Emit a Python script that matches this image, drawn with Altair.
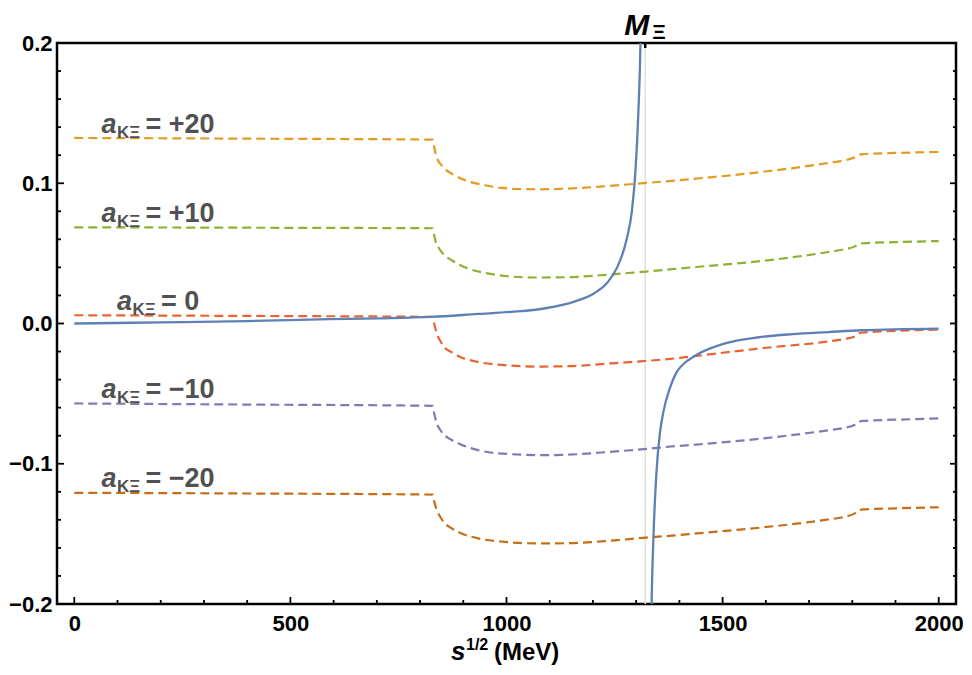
import altair as alt
import pandas as pd

# ---------------- data ----------------
M_XI = [1321]

BLUE_X1 = [0, 200, 400, 590, 705, 827, 934, 1011, 1087, 1164, 1202, 1233, 1256, 1278, 1290, 1298, 1305, 1310, 1313]
BLUE_Y1 = [0.0, 0.0008, 0.0017, 0.0031, 0.0037, 0.0047, 0.0068, 0.0083, 0.0107, 0.0163, 0.0214, 0.0290,
           0.040, 0.060, 0.080, 0.107, 0.150, 0.200, 0.260]
BLUE_X2 = [1333, 1336, 1340, 1347, 1355, 1363, 1378, 1393, 1409, 1439, 1508, 1584, 1661, 1745, 1822, 2000]
BLUE_Y2 = [-0.26, -0.195, -0.152, -0.106, -0.078, -0.063, -0.046, -0.035, -0.029, -0.0225, -0.0140,
           -0.0098, -0.0076, -0.0061, -0.0048, -0.0036]

P20_X = [0, 400, 829, 833, 836, 842, 850, 860, 873, 911, 950, 988, 1026, 1080, 1141, 1217, 1294, 1389, 1439,
         1592, 1745, 1780, 1806, 1815, 1825, 1900, 2000]
P20_Y = [0.1323, 0.1318, 0.1311, 0.1255, 0.1212, 0.1160, 0.1128, 0.1095, 0.1069, 0.1014, 0.0986, 0.0967,
         0.0959, 0.0957, 0.0962, 0.0976, 0.0995, 0.1019, 0.1033, 0.1081, 0.1145, 0.1163, 0.1185, 0.1203,
         0.1208, 0.1216, 0.1223]

P10_X = [0, 400, 829, 833, 836, 842, 850, 860, 873, 911, 950, 1003, 1065, 1141, 1217, 1294, 1389, 1439,
         1592, 1745, 1780, 1806, 1815, 1825, 1900, 2000]
P10_Y = [0.0686, 0.0683, 0.0679, 0.0625, 0.0585, 0.0545, 0.0510, 0.0478, 0.0451, 0.0392, 0.0361, 0.0337,
         0.0328, 0.0330, 0.0344, 0.0363, 0.0389, 0.0403, 0.0446, 0.0510, 0.0528, 0.0550, 0.0567, 0.0572,
         0.0580, 0.0588]

P0_X = [0, 400, 829, 833, 839, 848, 858, 873, 896, 934, 996, 1072, 1148, 1240, 1317, 1389, 1439, 1592,
        1745, 1780, 1806, 1815, 1825, 1900, 2000]
P0_Y = [0.0059, 0.0054, 0.0047, -0.0005, -0.0075, -0.0130, -0.0175, -0.0205, -0.0242, -0.0274, -0.0297,
        -0.0307, -0.0304, -0.0285, -0.0268, -0.0249, -0.0231, -0.0176, -0.0128, -0.0112, -0.0092, -0.0072,
        -0.0064, -0.0053, -0.0043]

M10_X = [0, 400, 829, 833, 838, 850, 870, 889, 934, 1011, 1087, 1164, 1240, 1317, 1389, 1439, 1592, 1745,
         1780, 1806, 1815, 1825, 1900, 2000]
M10_Y = [-0.0570, -0.0578, -0.0587, -0.0645, -0.0705, -0.0773, -0.0825, -0.0855, -0.0903, -0.0932, -0.0939,
         -0.0932, -0.0915, -0.0896, -0.0875, -0.0863, -0.0820, -0.0761, -0.0745, -0.0722, -0.0702, -0.0694,
         -0.0686, -0.0677]

M20_X = [0, 400, 829, 833, 839, 848, 858, 873, 896, 934, 996, 1072, 1148, 1240, 1317, 1389, 1439, 1592,
         1745, 1780, 1806, 1815, 1825, 1900, 2000]
M20_Y = [-0.1207, -0.1212, -0.1220, -0.1272, -0.1331, -0.1385, -0.1426, -0.1460, -0.1497, -0.1532, -0.1557,
         -0.1568, -0.1566, -0.1549, -0.1528, -0.1511, -0.1497, -0.1454, -0.1397, -0.1380, -0.1354, -0.1335,
         -0.1326, -0.1318, -0.1310]

SERIES = ["+20", "+10", "0", "\u221210", "\u221220"]
SERIES_COLORS = ["#E19C24", "#8FB032", "#EB6235", "#8778B3", "#C56E1A"]
BLUE = "#5E81B5"

LABEL_X = [63, 63, 99, 63, 63]
LABEL_Y = [0.1356, 0.0724, 0.0095, -0.0528, -0.1165]

X_MAJOR = [0, 500, 1000, 1500, 2000]
X_MINOR = [100, 200, 300, 400, 600, 700, 800, 900, 1100, 1200, 1300, 1400, 1600, 1700, 1800, 1900]
Y_MAJOR = [-0.2, -0.1, 0.0, 0.1, 0.2]
Y_MINOR = [-0.18, -0.16, -0.14, -0.12, -0.08, -0.06, -0.04, -0.02,
           0.02, 0.04, 0.06, 0.08, 0.12, 0.14, 0.16, 0.18]

# ---------------- tables ----------------
blue_df = pd.concat([
    pd.DataFrame({"x": BLUE_X1, "y": BLUE_Y1, "branch": "below"}),
    pd.DataFrame({"x": BLUE_X2, "y": BLUE_Y2, "branch": "above"}),
])
dash_df = pd.concat([
    pd.DataFrame({"x": xs, "y": ys, "k": name})
    for name, xs, ys in zip(SERIES, [P20_X, P10_X, P0_X, M10_X, M20_X], [P20_Y, P10_Y, P0_Y, M10_Y, M20_Y])
])
lab_df = pd.DataFrame({"x": LABEL_X, "y": LABEL_Y, "v": ["= " + s for s in SERIES]})
m_df = pd.DataFrame({"m": M_XI})

W, H = 899, 561
FONT = "Liberation Sans"
LABEL_GRAY = "#515151"

XS = alt.Scale(domain=[-40, 2040], nice=False, zero=False)
YS = alt.Scale(domain=[-0.2, 0.2], nice=False, zero=False)
XAXIS = alt.Axis(values=X_MAJOR, format="d", title=None, ticks=False, tickSize=0, domain=False, grid=False,
                 labelFont=FONT, labelFontWeight="bold", labelFontSize=22, labelColor="black",
                 labelPadding=9, labelBaseline="top")
YAXIS = alt.Axis(values=Y_MAJOR, format=".1f", title=None, ticks=False, tickSize=0, domain=False, grid=False,
                 labelFont=FONT, labelFontWeight="bold", labelFontSize=22, labelColor="black",
                 labelPadding=5)


def X(f):
    return alt.X(f, type="quantitative", scale=XS, axis=XAXIS)


def Y(f):
    return alt.Y(f, type="quantitative", scale=YS, axis=YAXIS)


mline = alt.Chart(m_df).mark_rule(color="#e2e2e2", strokeWidth=1.6).encode(x=X("m"))

dashed = alt.Chart(dash_df).mark_line(strokeWidth=2.2, strokeDash=[9, 5], clip=True, interpolate="monotone").encode(
    x=X("x"), y=Y("y"),
    color=alt.Color("k:N", scale=alt.Scale(domain=SERIES, range=SERIES_COLORS), legend=None),
    detail="k:N",
)

blue = alt.Chart(blue_df).mark_line(color=BLUE, strokeWidth=2.3, clip=True, interpolate="monotone").encode(
    x=X("x"), y=Y("y"), detail="branch:N"
)

# annotations a_KΞ = ...
lab_a = alt.Chart(lab_df).mark_text(align="left", baseline="alphabetic", font=FONT, fontWeight="bold",
                                    fontStyle="italic", fontSize=27, color=LABEL_GRAY).encode(
    x=X("x"), y=Y("y"), text=alt.value("a"))
lab_sub = alt.Chart(lab_df).mark_text(align="left", baseline="alphabetic", font=FONT, fontWeight="bold",
                                      fontSize=17, color=LABEL_GRAY, dx=15.5, dy=5).encode(
    x=X("x"), y=Y("y"), text=alt.value("K\u039e"))
lab_v = alt.Chart(lab_df).mark_text(align="left", baseline="alphabetic", font=FONT, fontWeight="bold",
                                    fontSize=27, color=LABEL_GRAY, dx=44).encode(
    x=X("x"), y=Y("y"), text="v:N")

# M_Ξ on top
m_text = alt.Chart(m_df).mark_text(align="left", baseline="alphabetic", font=FONT, fontWeight="bold",
                                   fontStyle="italic", fontSize=30, color="black", dx=-21).encode(
    x=X("m"), y=alt.value(-8), text=alt.value("M"))
m_sub = alt.Chart(m_df).mark_text(align="left", baseline="alphabetic", font=FONT, fontWeight="bold",
                                  fontSize=21, color="black", dx=7).encode(
    x=X("m"), y=alt.value(-4), text=alt.value("\u039e"))
m_tick = alt.Chart(m_df).mark_rule(color="black", strokeWidth=2.5).encode(
    x=X("m"), y=alt.value(0), y2=alt.value(5))

# frame ticks (inward)
xmaj = pd.DataFrame({"t": X_MAJOR})
xmin = pd.DataFrame({"t": X_MINOR})
ymaj = pd.DataFrame({"t": Y_MAJOR})
ymin = pd.DataFrame({"t": Y_MINOR})
tick_style = dict(color="black", strokeWidth=1.8)
t_bmaj = alt.Chart(xmaj).mark_rule(**tick_style).encode(x=X("t"), y=alt.value(H), y2=alt.value(H - 7))
t_bmin = alt.Chart(xmin).mark_rule(**tick_style).encode(x=X("t"), y=alt.value(H), y2=alt.value(H - 4))
t_lmaj = alt.Chart(ymaj).mark_rule(**tick_style).encode(y=Y("t"), x=alt.value(0), x2=alt.value(7))
t_lmin = alt.Chart(ymin).mark_rule(**tick_style).encode(y=Y("t"), x=alt.value(0), x2=alt.value(4))
t_rmaj = alt.Chart(ymaj).mark_rule(**tick_style).encode(y=Y("t"), x=alt.value(W), x2=alt.value(W - 6))
t_rmin = alt.Chart(ymin).mark_rule(**tick_style).encode(y=Y("t"), x=alt.value(W), x2=alt.value(W - 3))

# x-axis title s^{1/2} (MeV)
title_df = pd.DataFrame({"t": ["s"]})
ti_s = alt.Chart(title_df).mark_text(align="left", baseline="alphabetic", font=FONT, fontWeight="bold",
                                     fontStyle="italic", fontSize=26, color="black").encode(
    x=alt.value(394), y=alt.value(H + 56), text=alt.value("s"))
ti_sup = alt.Chart(title_df).mark_text(align="left", baseline="alphabetic", font=FONT, fontWeight="bold",
                                       fontSize=16, color="black").encode(
    x=alt.value(409), y=alt.value(H + 46), text=alt.value("1/2"))
ti_mev = alt.Chart(title_df).mark_text(align="left", baseline="alphabetic", font=FONT, fontWeight="bold",
                                       fontSize=24, color="black").encode(
    x=alt.value(437), y=alt.value(H + 56), text=alt.value("(MeV)"))

chart = alt.layer(
    mline, dashed, blue,
    t_bmaj, t_bmin, t_lmaj, t_lmin, t_rmaj, t_rmin, m_tick,
    lab_a, lab_sub, lab_v, m_text, m_sub,
    ti_s, ti_sup, ti_mev,
).properties(
    width=W, height=H,
    padding={"left": 49, "top": 35, "right": 8, "bottom": 62},
    autosize=alt.AutoSizeParams(type="none"),
    background="white",
).configure_view(
    stroke="black", strokeWidth=2.5
)

chart.save("out.html", embed_options={"renderer": "svg", "actions": False})
